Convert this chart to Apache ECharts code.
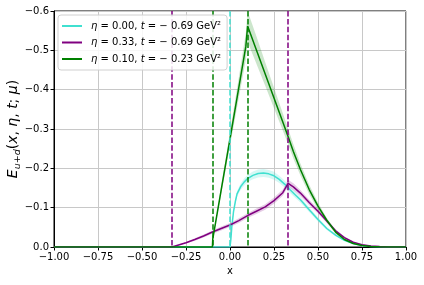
<!DOCTYPE html>
<html><head><meta charset="utf-8">
<script src="https://cdn.jsdelivr.net/npm/echarts@6/dist/echarts.min.js"></script>
<style>html,body{margin:0;padding:0;background:#fff}#c{width:424px;height:285px}</style>
</head><body><div id="c"></div>
<script>
// ---- data ----
const xTicks = [-1, -0.75, -0.5, -0.25, 0, 0.25, 0.5, 0.75, 1];
const yTicks = [-0.6, -0.5, -0.4, -0.3, -0.2, -0.1, 0];

const nameCyan = 'η = 0.00, t = − 0.69 GeV²';
const namePurple = 'η = 0.33, t = − 0.69 GeV²';
const nameGreen = 'η = 0.10, t = − 0.23 GeV²';

const xCyan = [-1, 0, 0.005, 0.01, 0.02, 0.03, 0.04, 0.06, 0.08, 0.10, 0.13, 0.16, 0.19, 0.22, 0.25, 0.28, 0.31, 0.34, 0.37, 0.40, 0.45, 0.50, 0.55, 0.60, 0.65, 0.70, 0.75, 0.80, 0.85, 0.90, 0.95, 1.0];
const eCyan = [0, 0, -0.02, -0.05, -0.09, -0.115, -0.135, -0.153, -0.165, -0.174, -0.182, -0.187, -0.188, -0.186, -0.181, -0.172, -0.160, -0.146, -0.133, -0.120, -0.095, -0.070, -0.047, -0.030, -0.017, -0.009, -0.004, -0.0015, -0.0005, 0, 0, 0];
const hwCyan = [0, 0, 0.002, 0.003, 0.005, 0.006, 0.007, 0.008, 0.009, 0.009, 0.010, 0.010, 0.010, 0.010, 0.010, 0.009, 0.009, 0.008, 0.008, 0.007, 0.006, 0.005, 0.004, 0.003, 0.002, 0.0015, 0.001, 0.0005, 0, 0, 0, 0];

const xPurple = [-1, -0.33, -0.25, -0.2, -0.15, -0.1, -0.05, 0, 0.05, 0.1, 0.15, 0.2, 0.25, 0.3, 0.33, 0.36, 0.4, 0.45, 0.5, 0.55, 0.6, 0.65, 0.7, 0.75, 0.8, 0.85, 0.9, 1.0];
const ePurple = [0, 0, -0.011, -0.019, -0.028, -0.038, -0.047, -0.056, -0.067, -0.080, -0.091, -0.102, -0.118, -0.138, -0.162, -0.153, -0.137, -0.113, -0.091, -0.066, -0.041, -0.024, -0.012, -0.006, -0.0025, -0.001, 0, 0];
const hwPurple = [0, 0, 0.002, 0.003, 0.004, 0.004, 0.005, 0.005, 0.006, 0.006, 0.007, 0.007, 0.008, 0.008, 0.009, 0.009, 0.008, 0.007, 0.006, 0.005, 0.004, 0.003, 0.002, 0.001, 0.0005, 0, 0, 0];

const xGreen = [-1, -0.1, -0.098, -0.05, 0, 0.05, 0.09, 0.1, 0.15, 0.2, 0.25, 0.3, 0.33, 0.36, 0.4, 0.45, 0.5, 0.55, 0.6, 0.65, 0.7, 0.75, 0.8, 0.85, 0.9, 1.0];
const eGreen = [0, 0, -0.02, -0.145, -0.275, -0.405, -0.51, -0.562, -0.501, -0.440, -0.379, -0.318, -0.281, -0.243, -0.197, -0.146, -0.104, -0.068, -0.038, -0.019, -0.009, -0.004, -0.0015, -0.0005, 0, 0];
const hwGreen = [0, 0, 0.002, 0.01, 0.018, 0.026, 0.034, 0.04, 0.035, 0.03, 0.026, 0.022, 0.02, 0.018, 0.015, 0.012, 0.009, 0.006, 0.004, 0.002, 0.001, 0.0005, 0, 0, 0, 0];

const vlinesPurple = [-0.33, 0.33];
const vlinesGreen = [-0.1, 0.1];
const vlinesCyan = [0];

// ---- styling ----
const C_CYAN = '#40e0d0', C_PURPLE = '#800080', C_GREEN = '#008000';
const FONT = 'DejaVu Sans';

function bandSeries(xs, e, hw, fill) {
  return {
    type: 'custom', silent: true, z: 1, data: [[0, 0]],
    encode: { x: 0, y: 0 },
    renderItem: function (params, api) {
      const up = xs.map((x, i) => api.coord([x, e[i] - hw[i]]));
      const lo = xs.map((x, i) => api.coord([x, e[i] + hw[i]])).reverse();
      const cs = params.coordSys;
      const pts = echarts.graphic.clipPointsByRect(up.concat(lo),
        { x: cs.x, y: cs.y, width: cs.width, height: cs.height });
      return { type: 'polygon', shape: { points: pts }, style: { fill: fill, stroke: null } };
    }
  };
}
function vlineSeries(xs, color) {
  return { type: 'line', data: [], symbol: 'none', silent: true, z: 2,
    markLine: { silent: true, symbol: ['none', 'none'], label: { show: false }, animation: false,
      lineStyle: { color: color, type: [5.5, 2.4], width: 1.5 },
      data: xs.map(v => ({ xAxis: v })) } };
}
function mainSeries(name, xs, e, color) {
  return { type: 'line', name: name, symbol: 'none', showSymbol: false, z: 3,
    lineStyle: { color: color, width: 1.5 }, itemStyle: { color: color },
    data: xs.map((x, i) => [x, e[i]]) };
}
const fmtMinus = s => s.replace('-', '−');

const chart = echarts.init(document.getElementById('c'), null, { renderer: 'canvas' });
chart.setOption({
  animation: false,
  grid: { left: 54, right: 18, top: 11, bottom: 38, containLabel: false, outerBoundsMode: 'none',
    show: true, borderColor: '#000', borderWidth: 1, backgroundColor: 'transparent' },
  xAxis: {
    type: 'value', min: xTicks[0], max: xTicks[xTicks.length - 1], interval: 0.25,
    name: 'x', nameLocation: 'middle', nameGap: 19, nameMoveOverlap: false,
    nameTextStyle: { fontFamily: FONT, fontSize: 10, color: '#000' },
    axisLine: { show: true, onZero: false, lineStyle: { color: '#000', width: 1 } },
    axisTick: { show: true, length: 3.5, lineStyle: { color: '#000' } },
    axisLabel: { fontFamily: FONT, fontSize: 10, color: '#000', margin: 5,
      formatter: v => fmtMinus((Math.abs(v) < 1e-9 ? 0 : v).toFixed(2)) },
    splitLine: { show: true, lineStyle: { color: '#c8c8c8', width: 1 } }
  },
  yAxis: {
    type: 'value', inverse: true, min: yTicks[0], max: yTicks[yTicks.length - 1], interval: 0.1,
    name: '{i|E}{s|u+d}{n|(}{i|x}{n|, }{i|η}{n|, }{i|t}{n|; }{i|μ}{n|)}',
    nameLocation: 'middle', nameGap: 31, nameRotate: 90, nameMoveOverlap: false,
    nameTextStyle: { fontFamily: FONT, fontSize: 14, color: '#000', lineHeight: 20,
      rich: {
        i: { fontFamily: FONT, fontSize: 14, fontStyle: 'italic', color: '#000', lineHeight: 20 },
        n: { fontFamily: FONT, fontSize: 14, color: '#000', lineHeight: 20 },
        s: { fontFamily: FONT, fontSize: 9.5, fontStyle: 'italic', color: '#000', verticalAlign: 'bottom', lineHeight: 20 }
      } },
    axisLine: { show: true, onZero: false, lineStyle: { color: '#000', width: 1 } },
    axisTick: { show: true, length: 3.5, lineStyle: { color: '#000' } },
    axisLabel: { fontFamily: FONT, fontSize: 10, color: '#000', margin: 5,
      formatter: v => fmtMinus((Math.abs(v) < 1e-9 ? 0 : v).toFixed(1)) },
    splitLine: { show: true, lineStyle: { color: '#c8c8c8', width: 1 } }
  },
  legend: {
    left: 58, top: 15, orient: 'vertical', itemWidth: 20, itemHeight: 2, itemGap: 6.5, icon: 'rect',
    padding: [6, 6, 6, 4], backgroundColor: 'rgba(255,255,255,0.85)', borderColor: '#d0d0d0',
    borderWidth: 1, borderRadius: 3, z: 10,
    data: [nameCyan, namePurple, nameGreen],
    formatter: n => n.replace('η', '{i|η}').replace(' t ', ' {i|t} '),
    textStyle: { fontFamily: FONT, fontSize: 10, color: '#000', padding: [0, 0, 0, 4],
      rich: { i: { fontFamily: FONT, fontSize: 10, fontStyle: 'italic', color: '#000' } } }
  },
  series: [
    bandSeries(xCyan, eCyan, hwCyan, 'rgba(64,224,208,0.22)'),
    bandSeries(xPurple, ePurple, hwPurple, 'rgba(128,0,128,0.2)'),
    bandSeries(xGreen, eGreen, hwGreen, 'rgba(0,128,0,0.2)'),
    vlineSeries(vlinesPurple, C_PURPLE),
    vlineSeries(vlinesGreen, C_GREEN),
    vlineSeries(vlinesCyan, C_CYAN),
    mainSeries(nameCyan, xCyan, eCyan, C_CYAN),
    mainSeries(namePurple, xPurple, ePurple, C_PURPLE),
    mainSeries(nameGreen, xGreen, eGreen, C_GREEN)
  ]
});
</script></body></html>
